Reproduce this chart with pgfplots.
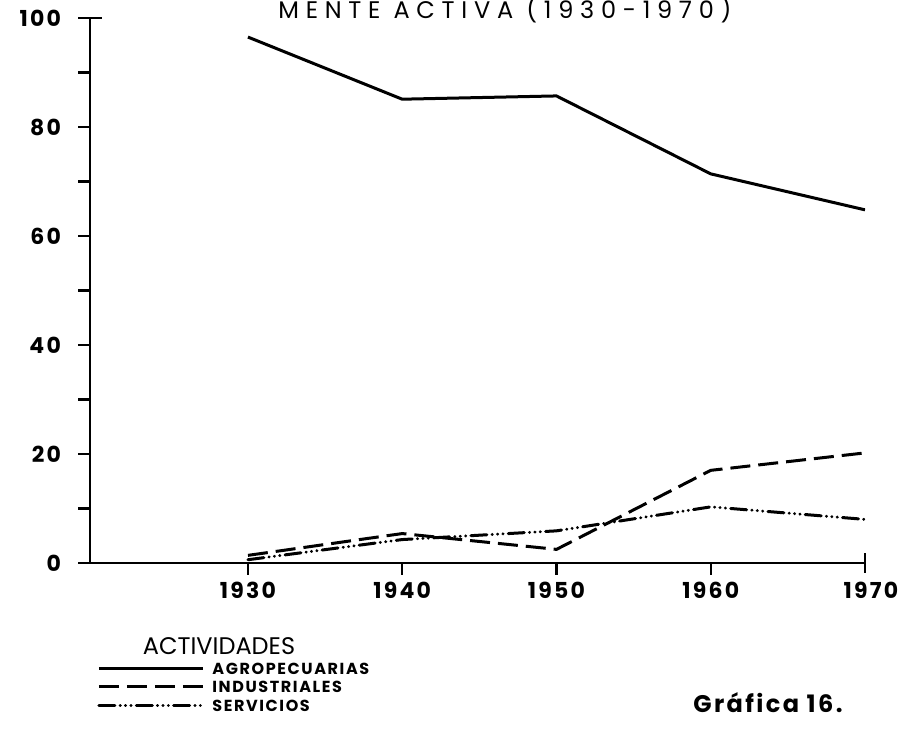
\documentclass[border=0pt]{standalone}
\usepackage{fontspec}
\setmainfont{Poppins}
\newfontfamily\spacedfont[LetterSpace=10]{Poppins}
\newfontfamily\titlefont[LetterSpace=28]{Poppins}
\usepackage{pgfplots}
\pgfplotsset{compat=1.18}
\begin{document}
\begin{tikzpicture}
\begin{axis}[
  scale only axis, width=387.5pt, height=272.5pt,
  xmin=1919.76, xmax=1970, ymin=0, ymax=100,
  axis x line*=bottom, axis y line*=left,
  axis line style={line width=1.4pt, -},
  every tick/.style={line width=1.2pt, black},
  tick align=outside,
  major tick length=6pt, minor tick length=6pt,
  xtick={1930,1940,1950,1960},
  extra x ticks={1970}, extra x tick labels={1970},
  extra x tick style={tick align=center, major tick length=10pt, xticklabel style={yshift=-1pt, xshift=3pt}},
  ytick={0,20,40,60,80}, minor ytick={10,30,50,70,90},
  extra y ticks={100}, extra y tick labels={100},
  extra y tick style={tick align=center, major tick length=12pt},
  /pgf/number format/assume math mode=true,
  /pgf/number format/1000 sep={},
  ticklabel style={font=\spacedfont\bfseries\fontsize{11}{13}\selectfont},
  yticklabel style={xshift=-5pt},
  legend style={draw=none, fill=none, inner sep=0pt, at={(axis description cs:0.009,-0.181)}, anchor=north west,
    font=\spacedfont\bfseries\fontsize{8}{10}\selectfont,
    nodes={inner sep=0pt, text height=6pt, text depth=0pt, anchor=west},
    row sep=3.25pt, /tikz/every odd column/.append style={column sep=4pt}},
  legend cell align=left,
  legend image code/.code={\draw[#1] (0pt,0pt) -- (52pt,0pt);},
]
\addplot[black, line width=1.5pt, line join=round] coordinates {(1930,96.5) (1940,85.1) (1950,85.7) (1960,71.4) (1970,64.8)};
\addlegendentry{AGROPECUARIAS}
\addplot[black, line width=1.5pt, dash pattern=on 10pt off 4pt] coordinates {(1930,1.4) (1940,5.4) (1950,2.5) (1960,17.0) (1970,20.2)};
\addlegendentry{INDUSTRIALES}
\addplot[black, line width=1.5pt, line cap=round, dash pattern=on 8pt off 2.6pt on 0.1pt off 2.6pt on 0.1pt off 2.6pt on 0.1pt off 2.6pt] coordinates {(1930,0.6) (1940,4.3) (1950,5.9) (1960,10.3) (1970,8.0)};
\addlegendentry{SERVICIOS}
\end{axis}
\node[anchor=base, font=\titlefont\fontsize{12}{14}\selectfont] at (207.5pt,272pt) {MENTE ACTIVA (1930-1970)};
\node[inner sep=0.5pt, font=\fontsize{12}{14}\selectfont] at (64.5pt,-41.5pt) {ACTIVIDADES};
\node[anchor=west, inner sep=0pt, font=\spacedfont\bfseries\fontsize{12}{14}\selectfont] at (301.5pt,-70pt) {Gráfica~16.};
\pgfresetboundingbox
\useasboundingbox (-45pt,-85pt) rectangle (408pt,281.5pt);
\end{tikzpicture}
\end{document}
